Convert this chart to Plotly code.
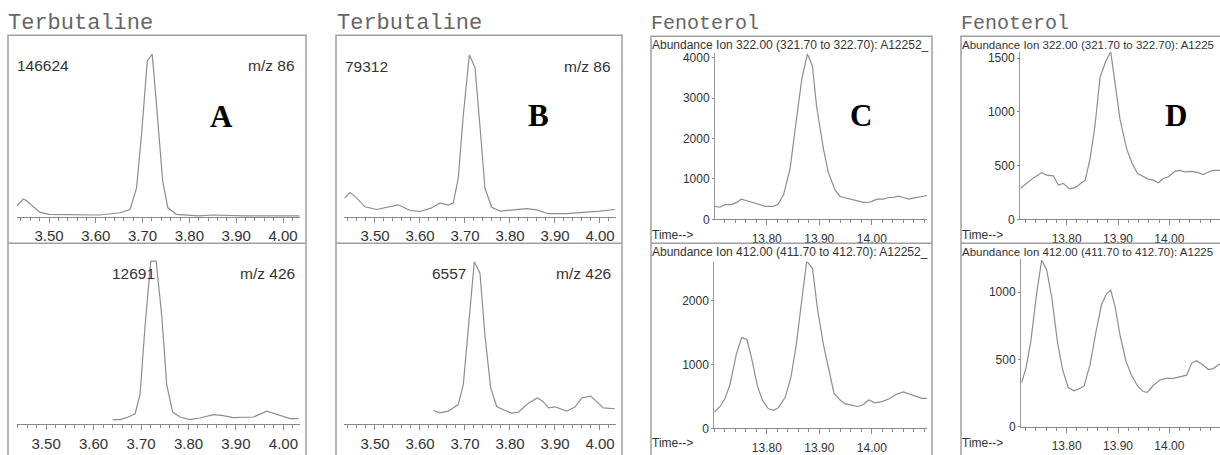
import plotly.graph_objects as go

W, H = 1220, 455

# ---------------- data ----------------
# Panel A, Terbutaline m/z 86 (peak 146624)
a86_t = [3.431, 3.445, 3.452, 3.480, 3.500, 3.566, 3.607, 3.652, 3.673, 3.687, 3.698,
         3.710, 3.7205, 3.730, 3.743, 3.754, 3.772, 3.820, 3.850, 3.920, 4.035]
a86_i = [9680, 16130, 14660, 4400, 2350, 2100, 1760, 3810, 6740, 25950, 75950,
         140760, 146624, 99410, 31820, 8210, 2350, 1000, 1750, 900, 900]
# Panel A, Terbutaline m/z 426 (peak 12691)
a426_t = [3.6405, 3.656, 3.673, 3.6875, 3.698, 3.7086, 3.7205, 3.7318, 3.7437, 3.754,
          3.7666, 3.7824, 3.803, 3.824, 3.8525, 3.870, 3.8946, 3.937, 3.965, 3.990, 4.014, 4.032]
a426_i = [356, 356, 560, 814, 2340, 7680, 12691, 12691, 8440, 3100,
          940, 560, 356, 480, 736, 686, 508, 560, 1015, 686, 432, 432]
# Panel B, Terbutaline m/z 86 (peak 79312)
b86_t = [3.4318, 3.4444, 3.4556, 3.4778, 3.5037, 3.5296, 3.5519, 3.5778, 3.600, 3.6259,
         3.6444, 3.663, 3.674, 3.685, 3.696, 3.7096, 3.7222, 3.7333, 3.7444, 3.7593,
         3.7778, 3.8074, 3.837, 3.8593, 3.885, 3.926, 3.963, 4.000, 4.0333]
b86_i = [9280, 11980, 10070, 4960, 3650, 4760, 5950, 3170, 2700, 4440,
         6900, 5790, 6900, 18880, 49250, 79312, 73200, 44410, 14040, 4760,
         2860, 3490, 4120, 3490, 1590, 1590, 2060, 2860, 3650]
# Panel B, Terbutaline m/z 426 (peak 6557)
b426_t = [3.6296, 3.6444, 3.663, 3.685, 3.6963, 3.7074, 3.7207, 3.7333, 3.7444, 3.757,
          3.7704, 3.7852, 3.8037, 3.8185, 3.8407, 3.8607, 3.8741, 3.8852, 3.900, 3.9259,
          3.9444, 3.9593, 3.9793, 3.9926, 4.0074, 4.0333]
b426_i = [554, 459, 525, 793, 1606, 3987, 6557, 6098, 3587, 1475,
          715, 580, 446, 485, 846, 1056, 911, 656, 702, 525,
          688, 1056, 1134, 911, 656, 623]
# Panel C, Fenoterol ion 322
c322_t = [13.7016, 13.711, 13.7206, 13.733, 13.743, 13.752, 13.762, 13.781, 13.797, 13.8127,
          13.822, 13.832, 13.8444, 13.854, 13.8667, 13.8775, 13.887, 13.895, 13.908, 13.917,
          13.930, 13.9397, 13.952, 13.968, 13.984, 13.997, 14.0095, 14.022, 14.032, 14.041,
          14.051, 14.060, 14.070, 14.079, 14.092, 14.105]
c322_i = [323, 299, 364, 364, 420, 501, 461, 380, 323, 323,
          380, 606, 1252, 2222, 3475, 4097, 3798, 2788, 1737, 1172,
          727, 566, 525, 461, 420, 428, 501, 501, 541, 541,
          574, 541, 501, 525, 550, 590]
# Panel C, Fenoterol ion 412
c412_t = [13.700, 13.711, 13.7206, 13.730, 13.7416, 13.752, 13.762, 13.771, 13.782, 13.792,
          13.803, 13.8127, 13.822, 13.835, 13.8457, 13.856, 13.8667, 13.876, 13.887, 13.8965,
          13.908, 13.9175, 13.928, 13.9397, 13.949, 13.960, 13.9727, 13.984, 13.9937, 14.006,
          14.019, 14.032, 14.0476, 14.060, 14.073, 14.0857, 14.095, 14.105]
c412_i = [255, 342, 469, 689, 1148, 1418, 1388, 1097, 663, 434,
          306, 281, 321, 485, 791, 1301, 2015, 2612, 2500, 1862,
          1301, 944, 546, 444, 383, 367, 342, 372, 444, 398,
          418, 459, 536, 571, 536, 495, 469, 469]
# Panel D, Fenoterol ion 322
d322_t = [13.7104, 13.722, 13.735, 13.7513, 13.761, 13.774, 13.7838, 13.7935, 13.805, 13.816,
          13.826, 13.836, 13.8455, 13.855, 13.865, 13.8766, 13.8857, 13.894, 13.904, 13.917,
          13.9266, 13.938, 13.949, 13.959, 13.9688, 13.9786, 13.988, 13.998, 14.011, 14.0208,
          14.0305, 14.0435, 14.0565, 14.066, 14.076, 14.0857, 14.0987]
d322_i = [289, 335, 386, 435, 411, 405, 319, 335, 283, 295,
          326, 365, 563, 867, 1324, 1476, 1561, 1293, 928, 654,
          532, 426, 396, 374, 365, 341, 380, 396, 447, 456,
          441, 447, 435, 417, 441, 456, 456]
# Panel D, Fenoterol ion 412
d412_t = [13.7123, 13.7208, 13.730, 13.7416, 13.7513, 13.761, 13.771, 13.782, 13.792, 13.803,
          13.814, 13.8227, 13.834, 13.8455, 13.857, 13.868, 13.878, 13.8857, 13.894, 13.904,
          13.9156, 13.9266, 13.938, 13.949, 13.957, 13.969, 13.9818, 13.9935, 14.008, 14.0208,
          14.0338, 14.0435, 14.0532, 14.065, 14.076, 14.0857, 14.0987]
d412_i = [328, 437, 631, 995, 1238, 1165, 959, 631, 425, 291,
          267, 279, 303, 461, 704, 910, 990, 1015, 898, 680,
          485, 381, 303, 262, 255, 308, 347, 359, 359, 371,
          383, 473, 490, 461, 425, 432, 468]

titles = ["Terbutaline", "Terbutaline", "Fenoterol", "Fenoterol"]
panel_letters = ["A", "B", "C", "D"]
peak_labels = ["146624", "79312", "12691", "6557"]
mz_labels = ["m/z 86", "m/z 86", "m/z 426", "m/z 426"]
headers = ["Abundance Ion 322.00 (321.70 to 322.70): A12252_",
           "Abundance Ion 412.00 (411.70 to 412.70): A12252_",
           "Abundance Ion 322.00 (321.70 to 322.70): A1225",
           "Abundance Ion 412.00 (411.70 to 412.70): A1225"]
time_label = "Time-->"

# ---------------- helpers ----------------
def px(x):
    return x / W

def py(y):
    return 1 - y / H

SANS = "Liberation Sans, Arial, sans-serif"
LINE = "#8a8a8a"
TXT = "#333333"

fig = go.Figure()
layout = {}

def ext(peak, base_px, peak_px, top_px):
    return peak * (base_px - top_px) / (base_px - peak_px)

specs = [
    (a86_t, a86_i, (17, 300), (219.3, 45), (3.4316, 4.0363), (0, ext(146624, 219.3, 53.3, 45)), "T", 0),
    (a426_t, a426_i, (16.7, 300), (430.7, 255), (3.438, 4.035), (0, ext(12691, 430.7, 264.3, 255)), "T", 0),
    (b86_t, b86_i, (344.3, 616), (219.3, 45), (3.4318, 4.0356), (0, ext(79312, 219.3, 54, 45)), "T", 0),
    (b426_t, b426_i, (344.3, 616), (430.7, 255), (3.4318, 4.0356), (0, ext(6557, 430.7, 265, 255)), "T", 0),
    (c322_t, c322_i, (715, 927), (221.7, 52), (13.7016, 14.105), (0, 4121), "F", 1000),
    (c412_t, c412_i, (714.3, 927), (435, 265), (13.700, 14.105), (0, 2602), "F", 1000),
    (d322_t, d322_i, (1020, 1220), (221.7, 50.7), (13.709, 14.0987), (0, 1561), "F", 500),
    (d412_t, d412_i, (1021, 1220), (433.3, 261.7), (13.711, 14.0987), (0, 1250), "F", 500),
]

for k, (t, inten, xd, yd, xr, yr, kind, ydt) in enumerate(specs):
    n = "" if k == 0 else str(k + 1)
    xa, ya = "x" + n, "y" + n
    fig.add_trace(go.Scatter(x=t, y=inten, mode="lines", xaxis=xa, yaxis=ya,
                             line=dict(color="#8e8e8e", width=1.2), showlegend=False,
                             hoverinfo="skip"))
    if kind == "T":
        xax = dict(domain=[px(xd[0]), px(xd[1])], range=list(xr), anchor=ya,
                   showline=True, linecolor=LINE, linewidth=1.2, showgrid=False, zeroline=False,
                   ticks="outside", ticklen=5, tickcolor=LINE, tickwidth=1,
                   tick0=3.5, dtick=0.1, tickformat=".2f",
                   tickfont=dict(family=SANS, size=15, color=TXT),
                   ticklabelstandoff=(1 if k % 2 else 0),
                   minor=dict(dtick=0.02, ticks="outside", ticklen=3, tickcolor=LINE, showgrid=False),
                   fixedrange=True)
        yax = dict(domain=[py(yd[0]), py(yd[1])], range=list(yr), anchor=xa, visible=False,
                   fixedrange=True)
    else:
        xax = dict(domain=[px(xd[0]), px(xd[1])], range=list(xr), anchor=ya,
                   showline=True, linecolor=LINE, linewidth=1, showgrid=False, zeroline=False,
                   ticks="outside", ticklen=5, tickcolor=LINE, tickwidth=1,
                   tickvals=[13.8, 13.9, 14.0], ticktext=["13.80", "13.90", "14.00"],
                   tickfont=dict(family=SANS, size=12, color=TXT),
                   ticklabelstandoff=3,
                   minor=dict(tick0=13.7, dtick=0.02, ticks="outside", ticklen=3, tickcolor=LINE,
                              showgrid=False),
                   fixedrange=True)
        yax = dict(domain=[py(yd[0]), py(yd[1])], range=list(yr), anchor=xa,
                   showline=True, linecolor="#9a9a9a", linewidth=1, showgrid=False, zeroline=False,
                   ticks="outside", ticklen=2, tickcolor=LINE, tick0=0, dtick=ydt, tickformat="d",
                   tickfont=dict(family=SANS, size=12, color=TXT), fixedrange=True)
    layout["xaxis" + n] = xax
    layout["yaxis" + n] = yax

fig.update_layout(**layout)

# ---------------- frames ----------------
shapes = []
frames = [(8, 306, 34), (336, 622, 34), (651, 932, 35), (961, 1230, 35)]
for (l, r, top) in frames:
    shapes.append(dict(type="rect", xref="paper", yref="paper", x0=px(l), x1=px(r),
                       y0=py(470), y1=py(top), line=dict(color="#a0a0a0", width=1.5)))
    shapes.append(dict(type="line", xref="paper", yref="paper", x0=px(l), x1=px(r),
                       y0=py(246), y1=py(246), line=dict(color="#a0a0a0", width=1.5)))

# ---------------- texts ----------------
ann = []
def A(x, y, text, xanchor="left", size=15, family=SANS, color=TXT, bold=False):
    if bold:
        text = "<b>" + text + "</b>"
    ann.append(dict(x=px(x), y=py(y), xref="paper", yref="paper", text=text, showarrow=False,
                    xanchor=xanchor, yanchor="middle", borderpad=0,
                    font=dict(family=family, size=size, color=color)))

MONO = "Courier New, Liberation Mono, monospace"
A(7, 22, titles[0], size=22, family=MONO, color="#666666")
A(336, 22, titles[1], size=22, family=MONO, color="#666666")
A(650, 22, titles[2], size=20, family=MONO, color="#666666")
A(960, 22, titles[3], size=20, family=MONO, color="#666666")

SERIF = "Liberation Serif, Times New Roman, serif"
A(221, 117, panel_letters[0], xanchor="center", size=31, family=SERIF, color="black", bold=True)
A(538, 116, panel_letters[1], xanchor="center", size=31, family=SERIF, color="black", bold=True)
A(861, 116, panel_letters[2], xanchor="center", size=31, family=SERIF, color="black", bold=True)
A(1176, 116, panel_letters[3], xanchor="center", size=31, family=SERIF, color="black", bold=True)

A(16, 65, peak_labels[0], size=15.5)
A(296, 65, mz_labels[0], xanchor="right", size=15.5)
A(344, 66, peak_labels[1], size=15.5)
A(612, 66, mz_labels[1], xanchor="right", size=15.5)
A(156, 277, peak_labels[2], xanchor="right", size=15.5)
A(296, 277, mz_labels[2], xanchor="right", size=15.5)
A(467, 277, peak_labels[3], xanchor="right", size=15.5)
A(612, 277, mz_labels[3], xanchor="right", size=15.5)

A(651, 43.5, headers[0], size=12)
A(651, 255, headers[1], size=12)
A(961, 43.5, headers[2], size=11.5)
A(961, 255, headers[3], size=11.5)

A(651, 238, time_label, size=12)
A(651, 450, time_label, size=12)
A(961, 238, time_label, size=12)
A(961, 450, time_label, size=12)

fig.update_layout(width=W, height=H, margin=dict(l=0, r=0, t=0, b=0),
                  paper_bgcolor="white", plot_bgcolor="white",
                  shapes=shapes, annotations=ann, showlegend=False)

fig.write_html("out.html", config={"displayModeBar": False},
               post_script="document.body.style.margin='0px';document.body.style.overflow='hidden';")
